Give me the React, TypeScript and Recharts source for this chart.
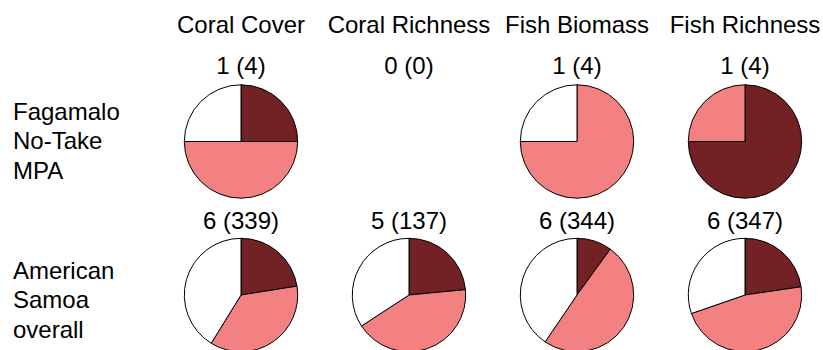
import React from "react";
import { PieChart, Pie, Cell } from "recharts";

const columns = ["Coral Cover", "Coral Richness", "Fish Biomass", "Fish Richness"];
const rowLabels = [
  ["Fagamalo", "No-Take", "MPA"],
  ["American", "Samoa", "overall"],
];
const fagamaloCounts = ["1 (4)", "0 (0)", "1 (4)", "1 (4)"];
const samoaCounts = ["6 (339)", "5 (137)", "6 (344)", "6 (347)"];

// share of sites per category, clockwise from 12 o'clock: dark, pink, white
const fagamaloDark = [25, 0, 0, 75];
const fagamaloPink = [50, 0, 75, 25];
const fagamaloWhite = [25, 0, 25, 0];
const samoaDark = [22.5, 23.5, 10, 22.7];
const samoaPink = [36.3, 42.3, 49.5, 47];
const samoaWhite = [41.2, 34.2, 40.5, 30.3];

const COLORS = ["#722124", "#F48182", "#FFFFFF"];
const W = 823;
const H = 350;
const colX = [241, 409, 577, 745];
const rowY = [141.5, 295];
const R = 56.7;
const FONT = "'Liberation Sans', Arial, sans-serif";

function build(d: number[], p: number[], w: number[], i: number) {
  return [
    { name: "dark", value: d[i] },
    { name: "pink", value: p[i] },
    { name: "white", value: w[i] },
  ];
}

export default function App() {
  const rows = [
    { counts: fagamaloCounts, d: fagamaloDark, p: fagamaloPink, w: fagamaloWhite },
    { counts: samoaCounts, d: samoaDark, p: samoaPink, w: samoaWhite },
  ];
  return (
    <div style={{ position: "absolute", left: 0, top: 0, width: W, height: H, background: "#fff" }}>
      <PieChart width={W} height={H} margin={{ top: 0, right: 0, bottom: 0, left: 0 }}>
        {rows.map((row, ri) =>
          columns.map((c, ci) => {
            const data = build(row.d, row.p, row.w, ci);
            const total = data.reduce((s, x) => s + x.value, 0);
            if (total === 0) return null;
            return (
              <Pie
                key={`${ri}-${ci}`}
                data={data}
                dataKey="value"
                cx={colX[ci]}
                cy={rowY[ri]}
                outerRadius={R}
                innerRadius={0}
                startAngle={90}
                endAngle={-270}
                stroke="#000"
                strokeWidth={1}
                isAnimationActive={false}
                label={false}
                labelLine={false}
              >
                {data.map((e, k) => (
                  <Cell key={k} fill={COLORS[k]} stroke="#000" />
                ))}
              </Pie>
            );
          })
        )}
        {columns.map((c, ci) => (
          <text key={`h${ci}`} x={colX[ci]} y={33} textAnchor="middle" fontFamily={FONT} fontSize={24} fill="#000">
            {c}
          </text>
        ))}
        {rows.map((row, ri) =>
          row.counts.map((t, ci) => (
            <text key={`c${ri}-${ci}`} x={colX[ci]} y={ri === 0 ? 74 : 229} textAnchor="middle" fontFamily={FONT} fontSize={24} fill="#000">
              {t}
            </text>
          ))
        )}
        {rowLabels.map((lines, ri) =>
          lines.map((l, li) => (
            <text key={`r${ri}-${li}`} x={13} y={(ri === 0 ? 120 : 279) + li * 29.3} fontFamily={FONT} fontSize={24} fill="#000">
              {l}
            </text>
          ))
        )}
      </PieChart>
    </div>
  );
}
